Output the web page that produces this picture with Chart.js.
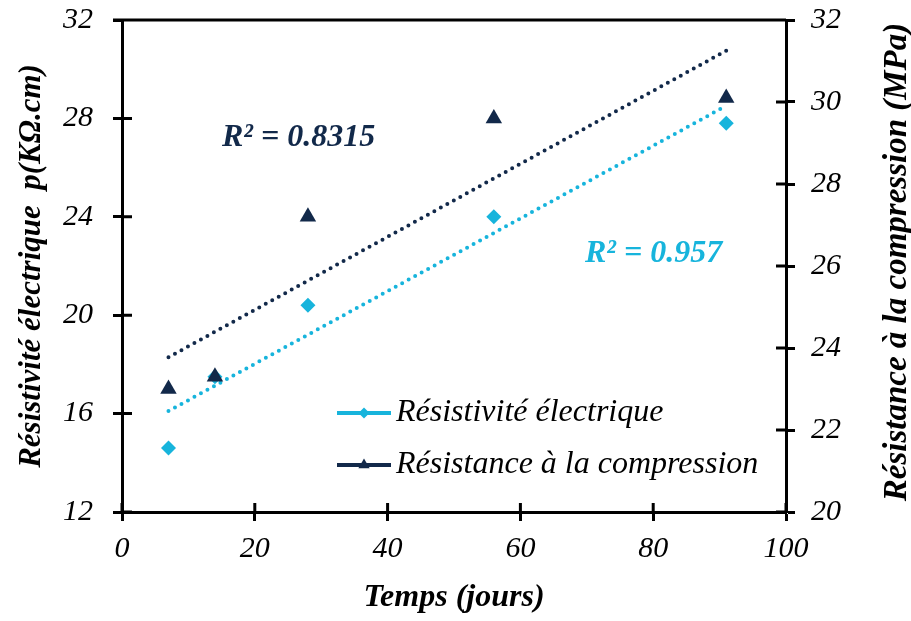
<!DOCTYPE html>
<html>
<head>
<meta charset="utf-8">
<script src="https://cdn.jsdelivr.net/npm/chart.js@4.4.1/dist/chart.umd.min.js"></script>
<style>
  html, body { margin: 0; padding: 0; background: #fff; }
  #wrap { width: 911px; height: 621px; }
</style>
</head>
<body>
<div id="wrap"><canvas id="chart" width="911" height="621"></canvas></div>
<script>
// --- Données ---
const days = [7, 14, 28, 56, 91];
const resistivity = [14.6, 17.5, 20.4, 24.0, 27.8];   // kΩ.cm (axe gauche)
const compression = [23.0, 23.3, 27.2, 29.6, 30.1];   // MPa (axe droit)
const r2Labels = ['R² = 0.957', 'R² = 0.8315'];
const xTicks = [0, 20, 40, 60, 80, 100];
const yLeftTicks = [12, 16, 20, 24, 28, 32];
const yRightTicks = [20, 22, 24, 26, 28, 30, 32];

const LIGHT = '#17B4DC';
const NAVY = '#12294A';
const FONT = '"Liberation Serif", "Times New Roman", serif';

// Droite de tendance linéaire (moindres carrés), comme la courbe de tendance d'Excel
function trendline(xs, ys) {
  const n = xs.length;
  const mx = xs.reduce((a, b) => a + b, 0) / n;
  const my = ys.reduce((a, b) => a + b, 0) / n;
  let sxy = 0, sxx = 0;
  for (let i = 0; i < n; i++) {
    sxy += (xs[i] - mx) * (ys[i] - my);
    sxx += (xs[i] - mx) ** 2;
  }
  const slope = sxy / sxx;
  const x0 = Math.min(...xs), x1 = Math.max(...xs);
  return [{ x: x0, y: my + slope * (x0 - mx) }, { x: x1, y: my + slope * (x1 - mx) }];
}

const toPoints = (xs, ys) => xs.map((x, i) => ({ x: x, y: ys[i] }));
const setTicks = arr => scale => { scale.ticks = arr.map(v => ({ value: v })); };
// largeur fixe des axes verticaux, sans marge supplémentaire pour les étiquettes
const fixWidth = w => s => { s.width = w; s.paddingTop = 0; s.paddingBottom = 0; };

// Ticks qui traversent les axes + bord supérieur + titre de l'axe droit + légende + R²
const decorations = {
  id: 'decorations',
  afterDraw(chart) {
    const { ctx, chartArea: a, scales } = chart;
    ctx.save();
    ctx.strokeStyle = '#000';
    ctx.lineWidth = 3;
    ctx.beginPath();
    ctx.moveTo(a.left - 9, a.top);
    ctx.lineTo(a.right, a.top);
    yLeftTicks.forEach(v => {
      const y = scales.y.getPixelForValue(v);
      ctx.moveTo(a.left, y); ctx.lineTo(a.left + 10, y);
    });
    yRightTicks.forEach(v => {
      const y = scales.y2.getPixelForValue(v);
      ctx.moveTo(a.right - 10, y); ctx.lineTo(a.right, y);
    });
    xTicks.forEach(v => {
      const x = scales.x.getPixelForValue(v);
      ctx.moveTo(x, a.bottom); ctx.lineTo(x, a.bottom - 9);
    });
    ctx.stroke();

    // titre axe droit (lu de bas en haut)
    ctx.save();
    ctx.translate(897, (a.top + a.bottom) / 2 - 4);
    ctx.rotate(-Math.PI / 2);
    ctx.font = 'italic bold 33px ' + FONT;
    ctx.fillStyle = '#000';
    ctx.textAlign = 'center';
    ctx.textBaseline = 'middle';
    ctx.fillText('Résistance à la compression (MPa)', 0, 0);
    ctx.restore();

    // R²
    ctx.font = 'italic bold 32px ' + FONT;
    ctx.textBaseline = 'middle';
    ctx.textAlign = 'left';
    ctx.fillStyle = NAVY;
    ctx.fillText(r2Labels[1], 222, 138);
    ctx.fillStyle = LIGHT;
    ctx.fillText(r2Labels[0], 585, 254);

    // légende
    const items = [
      { label: chart.data.datasets[1].label, color: LIGHT, style: 'rectRot', r: 5.5, y: 413 },
      { label: chart.data.datasets[0].label, color: NAVY, style: 'triangle', r: 6.5, y: 465 }
    ];
    items.forEach(it => {
      ctx.strokeStyle = it.color;
      ctx.lineWidth = 4;
      ctx.beginPath();
      ctx.moveTo(337, it.y); ctx.lineTo(391, it.y);
      ctx.stroke();
      ctx.fillStyle = it.color;
      Chart.helpers.drawPoint(ctx, { pointStyle: it.style, radius: it.r, borderWidth: 0 }, 364, it.y);
      ctx.fillStyle = '#000';
      ctx.font = 'italic 32px ' + FONT;
      ctx.fillText(it.label, 396, it.y);
    });
    ctx.restore();
  }
};

new Chart(document.getElementById('chart'), {
  type: 'scatter',
  data: {
    datasets: [
      {
        label: 'Résistance à la compression',
        data: toPoints(days, compression),
        yAxisID: 'y2',
        pointStyle: 'triangle',
        pointRadius: 9.5,
        pointHoverRadius: 9.5,
        backgroundColor: NAVY,
        borderColor: NAVY,
        borderWidth: 0,
        order: 0
      },
      {
        label: 'Résistivité électrique',
        data: toPoints(days, resistivity),
        yAxisID: 'y',
        pointStyle: 'rectRot',
        pointRadius: 7.5,
        pointHoverRadius: 7.5,
        backgroundColor: LIGHT,
        borderColor: LIGHT,
        borderWidth: 0,
        order: 1
      },
      {
        label: 'tendance compression',
        type: 'line',
        data: trendline(days, compression),
        yAxisID: 'y2',
        borderColor: NAVY,
        borderWidth: 4,
        borderDash: [0, 7.4],
        borderCapStyle: 'round',
        pointRadius: 0,
        fill: false,
        order: 2
      },
      {
        label: 'tendance résistivité',
        type: 'line',
        data: trendline(days, resistivity),
        yAxisID: 'y',
        borderColor: LIGHT,
        borderWidth: 4,
        borderDash: [0, 7.4],
        borderCapStyle: 'round',
        pointRadius: 0,
        fill: false,
        order: 3
      }
    ]
  },
  options: {
    responsive: false,
    animation: false,
    layout: { padding: { top: 20 } },
    plugins: {
      legend: { display: false },
      tooltip: { enabled: false }
    },
    scales: {
      x: {
        type: 'linear',
        min: 0,
        max: 100,
        afterBuildTicks: setTicks(xTicks),
        afterFit: s => { s.height = 109; s.paddingLeft = 0; s.paddingRight = 0; },
        border: { display: true, color: '#000', width: 3 },
        grid: { drawOnChartArea: false, tickLength: 9, tickColor: '#000', tickWidth: 3 },
        ticks: { color: '#000', padding: 10, font: { family: FONT, size: 30, style: 'italic' } },
        title: {
          display: true,
          text: 'Temps (jours)',
          color: '#000',
          padding: { bottom: 4 },
          font: { family: FONT, size: 32, style: 'italic', weight: 'bold' }
        }
      },
      y: {
        position: 'left',
        min: 12,
        max: 32,
        afterBuildTicks: setTicks(yLeftTicks),
        afterFit: fixWidth(122),
        border: { display: true, color: '#000', width: 3 },
        grid: { drawOnChartArea: false, tickLength: 9, tickColor: '#000', tickWidth: 3 },
        ticks: { color: '#000', padding: 20, font: { family: FONT, size: 30, style: 'italic' } },
        title: {
          display: true,
          text: 'Résistivité électrique  p(KΩ.cm)',
          color: '#000',
          padding: { top: 13 },
          font: { family: FONT, size: 31, style: 'italic', weight: 'bold' }
        }
      },
      y2: {
        position: 'right',
        min: 20,
        max: 32,
        afterBuildTicks: setTicks(yRightTicks),
        afterFit: fixWidth(125),
        border: { display: true, color: '#000', width: 3 },
        grid: { drawOnChartArea: false, tickLength: 9, tickColor: '#000', tickWidth: 3 },
        ticks: { color: '#000', padding: 16, font: { family: FONT, size: 30, style: 'italic' } }
      }
    }
  },
  plugins: [decorations]
});
</script>
</body>
</html>
